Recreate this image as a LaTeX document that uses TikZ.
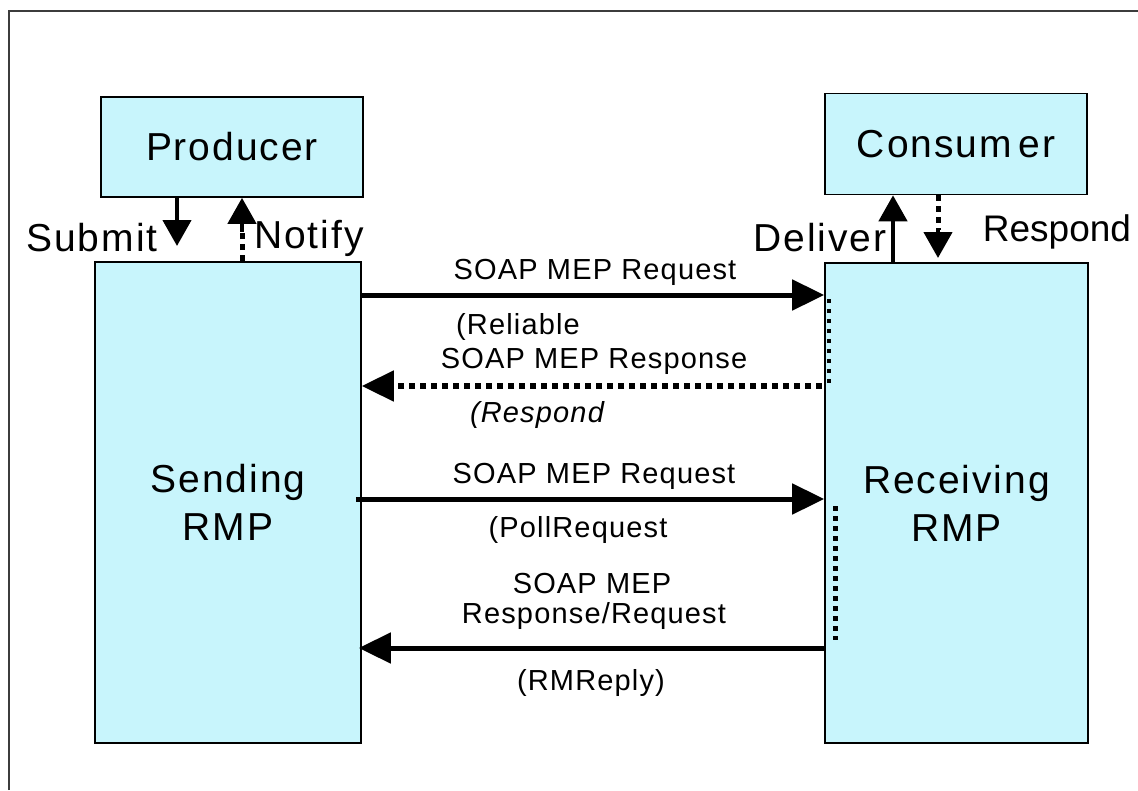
\documentclass[tikz,border=0pt]{standalone}
\usepackage{fontspec}
\setmainfont{Liberation Sans}
\newfontfamily\bigf[LetterSpace=5]{Liberation Sans}
\newfontfamily\smallf[LetterSpace=4]{Liberation Sans}
\usetikzlibrary{arrows.meta,calc}
\definecolor{boxfill}{RGB}{200,245,252}
\definecolor{framegray}{RGB}{60,60,60}
\begin{document}
\begin{tikzpicture}[x=1pt,y=-1pt,
  box/.style={draw=black,line width=1.6pt,fill=boxfill,inner sep=0pt,align=center,
     font=\bigf\fontsize{39}{48}\selectfont},
  biglbl/.style={inner sep=0pt,font=\bigf\fontsize{39}{48}\selectfont},
  lbl/.style={inner sep=0pt,font=\smallf\fontsize{29}{32}\selectfont},
  harrow/.style={line width=5pt,-{Triangle[length=32pt,width=30pt]}},
  varrow/.style={line width=4.5pt,-{Triangle[length=26pt,width=28pt]}},
  dotline/.style={dash pattern=on 6pt off 5pt},
  thindots/.style={line width=4pt,dash pattern=on 4pt off 6pt}
]
\useasboundingbox (0,0) rectangle (1138,790);
\draw[framegray,line width=2pt] (9,790) -- (9,11) -- (1138,11);

% boxes
\node[box,minimum width=262pt,minimum height=100pt] (P) at (232,147) {Producer};
\node[box,minimum width=262pt,minimum height=101pt] (C) at (956,144) {Consum\,er};
\node[box,minimum width=266pt,minimum height=481pt] (S) at (228,502.5) {Sending\\RMP};
\node[box,minimum width=263pt,minimum height=480pt] (R) at (956.5,503) {Receiving\\RMP};

% vertical arrows
\coordinate (sub) at (177,0);
\coordinate (not) at (242,0);
\coordinate (del) at (893,0);
\coordinate (res) at (938,0);
\draw[varrow] (P.south -| sub) -- (sub |- 0,246);
\draw[line width=5pt,dotline] (S.north -| not) -- (not |- 0,230);
\draw[line width=4.5pt,-{Triangle[length=26pt,width=28pt]}] (not |- 0,232) -- (P.south -| not);
\draw[varrow] (R.north -| del) -- (C.south -| del);
\draw[line width=5pt,dotline] (C.south -| res) -- (res |- 0,230);
\draw[line width=4.5pt,-{Triangle[length=26pt,width=28pt]}] (res |- 0,230) -- (res |- 0,258);

\node[biglbl] (tsub) at (92,238) {Submit};
\node[biglbl] (tnot) at (309,238) {Notify};
\node[biglbl] (tdel) at (820,238) {Deliver};
\node[biglbl,font=\fontsize{37}{44}\selectfont] (tres) at (1057,232) {Respond};

% horizontal arrows
\coordinate (y1) at (0,295);
\coordinate (y2) at (0,386);
\coordinate (y3) at (0,499);
\coordinate (y4) at (0,648);
\draw[harrow] (S.east |- y1) -- (R.west |- y1);
\draw[line width=6pt,dotline] ($(R.west |- y2)+(-2,0)$) -- (392,386);
\draw[line width=5pt,-{Triangle[length=32pt,width=30pt]}] (394,386) -- (S.east |- y2);
\draw[harrow] ($(S.east |- y3)+(-6,0)$) -- (R.west |- y3);
\draw[harrow] (R.west |- y4) -- ($(S.east |- y4)+(-3,0)$);

% dotted links on receiving side
\draw[thindots] (829,299) -- (829,384);
\draw[line width=5pt,dash pattern=on 5pt off 5pt] (835,506) -- (835,640);

% labels
\node[lbl] (l1) at (595,272) {SOAP MEP Request};
\node[lbl] (l2) at (518,327) {(Reliable};
\node[lbl] (l3) at (594,361) {SOAP MEP Response};
\node[lbl,font=\smallf\itshape\fontsize{29}{32}\selectfont] (l4) at (537,415) {(Respond};
\node[lbl] (l5) at (594,476) {SOAP MEP Request};
\node[lbl] (l6) at (578,530) {(PollRequest};
\node[lbl] (l7) at (592,584) {SOAP MEP};
\node[lbl] (l8) at (594,616) {Response/Request};
\node[lbl] (l9) at (591,683) {(RMReply)};
\end{tikzpicture}
\end{document}
